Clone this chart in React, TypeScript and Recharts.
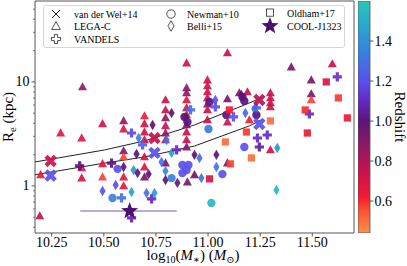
import React from 'react';
import { ScatterChart, Scatter, XAxis, YAxis, ReferenceArea, ErrorBar, Legend, BarChart, Bar, Label } from 'recharts';

const SERIF = '"Liberation Serif", "DejaVu Serif", serif';

// colormap stops (redshift, colour)
const cmapStops: [number, string][] = [
  [0.44, '#f8914f'], [0.55, '#fb5331'], [0.62, '#f21b33'], [0.75, '#c8114c'], [0.88, '#8b1a66'],
  [1.0, '#5b1579'], [1.1, '#6529c4'], [1.2, '#5a50ec'], [1.32, '#3d79e0'], [1.45, '#2aa0d0'], [1.6, '#27c9b7'],
];
const Z_MIN = 0.44;
const Z_MAX = 1.6;
const cbTicks = [0.6, 0.8, 1.0, 1.2, 1.4];

const xTicks = [10.25, 10.5, 10.75, 11.0, 11.25, 11.5];
const yTicks = [0.4, 0.5, 0.6, 0.7, 0.8, 0.9, 1, 2, 3, 4, 5, 6, 7, 8, 9, 10, 20, 30, 40, 50];

// [log10 M*, Re (kpc), redshift]
const vanDerWel: number[][] = [
  [10.245, 1.74, 0.74], [10.245, 1.26, 1.2], [10.743, 2.89, 0.76], [10.743, 2.08, 1.2], [11.246, 6.71, 0.78], [11.246, 3.95, 1.2],
];
const legaC: number[][] = [
  [10.398, 8.95, 0.86], [10.293, 3.23, 0.66], [10.494, 3.95, 0.72], [10.394, 2.89, 0.68], [10.595, 4.22, 0.86],
  [10.595, 3.53, 0.68], [10.595, 2.17, 0.9], [10.595, 1.9, 0.57], [10.494, 1.63, 0.68], [10.394, 1.49, 0.66],
  [10.197, 1.28, 0.64], [10.394, 1.19, 0.72], [10.494, 1.22, 0.57], [10.595, 1.22, 0.66], [10.595, 1.0, 0.66],
  [10.193, 0.515, 0.74], [10.695, 1.22, 0.92], [10.695, 1.52, 0.68], [10.796, 1.66, 0.92], [10.901, 1.09, 0.92],
  [10.695, 4.71, 0.62], [10.695, 3.95, 0.72], [10.695, 3.3, 0.72], [10.695, 2.77, 0.74], [10.695, 1.9, 0.72],
  [10.796, 6.71, 0.74], [10.796, 5.38, 0.74], [10.796, 4.51, 0.86], [10.796, 3.78, 0.74], [10.796, 3.23, 0.86], [10.796, 2.77, 0.76],
  [10.897, 15.2, 0.74], [10.897, 8.75, 0.88], [10.897, 7.84, 0.88], [10.897, 6.71, 0.66], [10.897, 5.62, 0.74],
  [10.897, 4.82, 0.74], [10.897, 3.86, 0.9], [10.897, 3.3, 0.74], [10.897, 2.77, 0.76], [10.897, 2.37, 0.9],
  [10.997, 10.4, 0.74], [10.997, 9.15, 0.74], [10.997, 8.01, 0.74], [10.997, 7.02, 0.74], [10.997, 6.14, 0.86],
  [10.997, 5.38, 0.74], [10.997, 4.31, 0.74],
  [11.093, 19.0, 0.74], [11.093, 6.86, 0.92], [11.093, 4.12, 0.74], [11.093, 1.66, 0.92], [11.15, 7.84, 0.9],
  [11.189, 8.01, 0.74], [11.198, 4.31, 0.62],
  [11.299, 7.84, 0.74], [11.299, 7.02, 0.74], [11.299, 6.28, 0.74], [11.299, 5.75, 0.74], [11.299, 2.22, 0.74],
  [11.399, 13.9, 0.92], [11.596, 14.9, 0.74], [11.495, 10.4, 0.92], [11.495, 7.67, 0.92], [11.495, 6.71, 0.57],
  [10.935, 1.28, 0.95],
];
const vandels: number[][] = [
  [10.633, 3.23, 1.18], [10.537, 1.66, 1.0], [10.384, 1.56, 1.0], [10.585, 0.767, 1.3], [10.729, 0.75, 1.1],
  [10.633, 0.493, 1.08], [10.916, 5.38, 1.28], [11.035, 5.75, 1.2], [11.122, 4.61, 1.2], [11.232, 5.62, 1.25],
  [10.849, 2.22, 1.1], [10.686, 2.48, 1.25], [11.237, 2.89, 1.1], [11.284, 3.09, 1.1], [11.246, 2.37, 1.05],
  [11.486, 4.92, 1.1], [11.62, 11.2, 1.12],
];
const newman: number[][] = [
  [10.566, 1.46, 1.2], [10.542, 0.767, 1.35], [10.877, 1.59, 1.2], [10.906, 1.59, 1.2], [10.897, 1.42, 1.2],
  [10.877, 1.33, 1.2], [10.825, 1.19, 1.35], [10.887, 4.61, 1.0], [10.901, 4.12, 1.0], [11.007, 6.42, 1.02],
  [11.002, 3.53, 1.32], [11.088, 4.82, 1.0], [11.165, 7.17, 1.0], [11.174, 6.57, 1.0], [11.174, 2.37, 1.2],
  [11.069, 1.3, 1.2], [11.016, 0.687, 1.55], [11.232, 4.82, 1.0],
];
const belli: number[][] = [
  [10.595, 1.52, 1.0], [10.643, 1.42, 1.42], [10.657, 2.03, 1.0], [10.667, 2.89, 1.35], [10.557, 1.02, 1.2],
  [10.494, 0.895, 1.22], [10.633, 0.875, 1.45], [10.662, 1.33, 1.0], [10.715, 1.3, 1.0], [10.705, 0.857, 1.3],
  [10.743, 0.857, 1.45], [10.825, 2.08, 1.45], [10.777, 1.7, 1.3], [10.796, 1.39, 1.35], [10.796, 1.14, 1.0],
  [10.853, 1.07, 1.02], [10.734, 3.86, 1.0], [10.825, 5.03, 1.0], [11.035, 6.71, 1.2], [11.16, 7.5, 1.0],
  [11.179, 5.03, 1.28], [11.222, 5.5, 1.35], [10.801, 2.77, 1.3], [10.935, 1.99, 1.0], [10.959, 1.86, 1.3],
  [11.04, 1.99, 1.0], [11.04, 1.52, 1.3], [10.968, 1.19, 1.3], [11.332, 2.32, 1.42], [11.328, 0.915, 1.55],
];
const oldham: number[][] = [
  [11.102, 5.38, 0.62], [11.083, 2.65, 0.5], [11.184, 3.3, 0.58], [11.107, 1.63, 0.57], [11.007, 1.17, 0.7],
  [11.208, 1.86, 0.5], [11.299, 4.22, 0.5], [11.567, 10.0, 0.7], [11.625, 7.02, 0.58], [11.466, 5.38, 0.6],
  [11.668, 4.51, 0.64], [11.476, 3.23, 0.64],
];
const coolJ1323 = [{ m: 10.624, r: 0.575, z: 1.02, err: [0.237, 0.226] }];
const fitUpper: number[][] = [[10.169, 1.7], [10.504, 2.22], [10.695, 2.71], [10.935, 3.86], [11.198, 6.28], [11.265, 7.17]];
const fitLower: number[][] = [[10.169, 1.28], [10.504, 1.66], [10.695, 1.9], [10.935, 2.42], [11.198, 3.78], [11.256, 4.31]];

const toPts = (a: number[][]) => a.map(([m, r, z]) => ({ m, r, z }));

function hexToRgb(h: string) {
  return [parseInt(h.slice(1, 3), 16), parseInt(h.slice(3, 5), 16), parseInt(h.slice(5, 7), 16)];
}
function zc(z: number) {
  const v = Math.max(Z_MIN, Math.min(Z_MAX, z));
  for (let i = 0; i < cmapStops.length - 1; i++) {
    const [z0, c0] = cmapStops[i];
    const [z1, c1] = cmapStops[i + 1];
    if (v >= z0 && v <= z1) {
      const t = (v - z0) / (z1 - z0);
      const a = hexToRgb(c0);
      const b = hexToRgb(c1);
      const c = a.map((x, k) => Math.round(x + (b[k] - x) * t));
      return `rgb(${c[0]},${c[1]},${c[2]})`;
    }
  }
  return cmapStops[cmapStops.length - 1][1];
}

const OP = 0.92;
function plusPts(cx: number, cy: number, a: number, r: number, rot: number) {
  const base = [[-a, -r], [a, -r], [a, -a], [r, -a], [r, a], [a, a], [a, r], [-a, r], [-a, a], [-r, a], [-r, -a], [-a, -a]];
  const c = Math.cos(rot), s = Math.sin(rot);
  return base.map(([x, y]) => `${cx + x * c - y * s},${cy + x * s + y * c}`).join(' ');
}
function starPts(cx: number, cy: number, ro: number, ri: number) {
  const p: string[] = [];
  for (let i = 0; i < 10; i++) {
    const r = i % 2 === 0 ? ro : ri;
    const ang = -Math.PI / 2 + (i * Math.PI) / 5;
    p.push(`${cx + r * Math.cos(ang)},${cy + r * Math.sin(ang)}`);
  }
  return p.join(' ');
}

const TriShape = (p: any) => (
  <polygon points={`${p.cx},${p.cy - 4.8} ${p.cx - 4.5},${p.cy + 3.4} ${p.cx + 4.5},${p.cy + 3.4}`} fill={zc(p.payload.z)} fillOpacity={OP} />
);
const XShape = (p: any) => <polygon points={plusPts(p.cx, p.cy, 2.2, 6.6, Math.PI / 4)} fill={zc(p.payload.z)} fillOpacity={OP} />;
const PlusShape = (p: any) => <polygon points={plusPts(p.cx, p.cy, 1.6, 4.6, 0)} fill={zc(p.payload.z)} fillOpacity={OP} />;
const CircleShape = (p: any) => <circle cx={p.cx} cy={p.cy} r={4.2} fill={zc(p.payload.z)} fillOpacity={OP} />;
const DiamondShape = (p: any) => (
  <polygon points={`${p.cx},${p.cy - 5.2} ${p.cx + 3.1},${p.cy} ${p.cx},${p.cy + 5.2} ${p.cx - 3.1},${p.cy}`} fill={zc(p.payload.z)} fillOpacity={OP} />
);
const SquareShape = (p: any) => <rect x={p.cx - 3.6} y={p.cy - 3.6} width={7.2} height={7.2} fill={zc(p.payload.z)} fillOpacity={OP} />;
const StarShape = (p: any) => <polygon points={starPts(p.cx, p.cy, 9, 3.7)} fill="#4a0e6e" />;
const NoShape = () => <g />;

const XTick = (p: any) => (
  <g>
    <line x1={p.x} x2={p.x} y1={p.y} y2={p.y + 3.5} stroke="#333" strokeWidth={0.8} />
    <text x={p.x} y={p.y + 14} textAnchor="middle" fontFamily={SERIF} fontSize={14} fill="#000">
      {Number(p.payload.value).toFixed(2)}
    </text>
  </g>
);
const YTick = (p: any) => {
  const v = p.payload.value;
  const major = v === 1 || v === 10;
  return (
    <g>
      <line x1={p.x} x2={p.x - (major ? 3.5 : 2)} y1={p.y} y2={p.y} stroke="#333" strokeWidth={major ? 0.8 : 0.6} />
      {major && (
        <text x={p.x - 5.5} y={p.y} textAnchor="end" dominantBaseline="central" fontFamily={SERIF} fontSize={14} fill="#000">
          {v}
        </text>
      )}
    </g>
  );
};
const CbTick = (p: any) => (
  <g>
    <line x1={p.x} x2={p.x + 3.5} y1={p.y} y2={p.y} stroke="#333" strokeWidth={0.8} />
    <text x={p.x + 4.5} y={p.y} textAnchor="start" dominantBaseline="central" fontFamily={SERIF} fontSize={14} fill="#000">
      {Number(p.payload.value).toFixed(1)}
    </text>
  </g>
);

const LegendBox = () => {
  const txt = { fontFamily: SERIF, fontSize: 10, fill: '#000', dominantBaseline: 'central' as const };
  return (
    <div style={{ position: 'relative', width: 302, height: 43, border: '1px solid #d6d6d6', borderRadius: 3, background: 'rgba(255,255,255,0.85)', boxSizing: 'border-box' }}>
      <svg width={302} height={43} style={{ position: 'absolute', left: -1, top: -1 }}>
        <line x1={9} y1={5} x2={17} y2={13} stroke="#222" strokeWidth={1} />
        <line x1={9} y1={13} x2={17} y2={5} stroke="#222" strokeWidth={1} />
        <text x={31} y={9} {...txt}>van der Wel+14</text>
        <polygon points="13,16.5 8.6,24.5 17.4,24.5" fill="none" stroke="#222" strokeWidth={0.8} />
        <text x={31} y={21.5} {...txt}>LEGA-C</text>
        <polygon points={plusPts(13, 34, 1.6, 4.6, 0)} fill="none" stroke="#222" strokeWidth={0.8} />
        <text x={31} y={34} {...txt}>VANDELS</text>
        <circle cx={128} cy={9} r={4.2} fill="none" stroke="#222" strokeWidth={0.8} />
        <text x={144} y={9} {...txt}>Newman+10</text>
        <polygon points="128,15.8 131.1,21 128,26.2 124.9,21" fill="none" stroke="#222" strokeWidth={0.8} />
        <text x={144} y={21.5} {...txt}>Belli+15</text>
        <rect x={223.4} y={4} width={7.2} height={7.2} fill="none" stroke="#222" strokeWidth={0.8} />
        <text x={244} y={8} {...txt}>Oldham+17</text>
        <polygon points={starPts(227, 21, 9, 3.7)} fill="#4a0e6e" />
        <text x={244} y={21.5} {...txt}>COOL-J1323</text>
      </svg>
    </div>
  );
};

// gradient stops from top (high z) to bottom (low z), offsets increasing
const gradStops = cmapStops.slice().reverse().map(([z, c]) => ({ off: (Z_MAX - z) / (Z_MAX - Z_MIN), c }));

export default function App() {
  return (
    <div style={{ position: 'absolute', left: 0, top: 0, width: 407, height: 266, background: '#fff' }}>
      <div style={{ position: 'absolute', left: 0, top: 0 }}>
        <ScatterChart width={407} height={266} margin={{ top: 1, right: 53, bottom: 0, left: 0 }}>
          <XAxis type="number" dataKey="m" domain={[10.17, 11.7]} allowDataOverflow ticks={xTicks} interval={0}
            tick={<XTick />} tickLine={false} axisLine={false} tickSize={0} tickMargin={0} height={33}>
            <Label content={() => (
              <text x={193} y={260} textAnchor="middle" fontFamily={SERIF} fontSize={15} fill="#000">
                log<tspan dy={2.5} fontSize={10}>10</tspan>
                <tspan dy={-2.5}>(</tspan><tspan fontStyle="italic">M</tspan><tspan dy={2.5} fontSize={10}>∗</tspan>
                <tspan dy={-2.5}>) (</tspan><tspan fontStyle="italic">M</tspan><tspan dy={2.5} fontSize={10}>⊙</tspan><tspan dy={-2.5}>)</tspan>
              </text>
            )} />
          </XAxis>
          <YAxis type="number" dataKey="r" scale="log" domain={[0.353, 60]} allowDataOverflow ticks={yTicks} interval={0}
            tick={<YTick />} tickLine={false} axisLine={false} tickSize={0} tickMargin={0} width={35}>
            <Label content={() => (
              <text transform="translate(13,117) rotate(-90)" textAnchor="middle" fontFamily={SERIF} fontSize={15} fill="#000">
                R<tspan dy={2.5} fontSize={10.5}>e</tspan><tspan dy={-2.5}> (kpc)</tspan>
              </text>
            )} />
          </YAxis>
          <ReferenceArea x1={10.17} x2={11.7} y1={0.353} y2={60} fill="none" stroke="#444" strokeWidth={1} strokeOpacity={0.9} />
          <Scatter data={toPts(fitUpper.map(([m, r]) => [m, r, 0]))} line={{ stroke: '#222', strokeWidth: 1 }} shape={NoShape} isAnimationActive={false} />
          <Scatter data={toPts(fitLower.map(([m, r]) => [m, r, 0]))} line={{ stroke: '#222', strokeWidth: 1 }} shape={NoShape} isAnimationActive={false} />
          <Scatter data={toPts(legaC)} shape={TriShape} isAnimationActive={false} />
          <Scatter data={toPts(belli)} shape={DiamondShape} isAnimationActive={false} />
          <Scatter data={toPts(newman)} shape={CircleShape} isAnimationActive={false} />
          <Scatter data={toPts(vandels)} shape={PlusShape} isAnimationActive={false} />
          <Scatter data={toPts(oldham)} shape={SquareShape} isAnimationActive={false} />
          <Scatter data={toPts(vanDerWel)} shape={XShape} isAnimationActive={false} />
          <Scatter data={coolJ1323} shape={StarShape} isAnimationActive={false}>
            <ErrorBar dataKey="err" direction="x" width={0} stroke="#a98ccb" strokeWidth={1.6} />
          </Scatter>
          <Legend layout="vertical" align="center" verticalAlign="middle" content={() => <LegendBox />}
            wrapperStyle={{ left: 43, top: 5, width: 302, height: 43 }} />
        </ScatterChart>
      </div>
      <div style={{ position: 'absolute', left: 358, top: 0 }}>
        <BarChart width={49} height={266} data={[{ k: 'cb', v: Z_MAX }]} margin={{ top: 1, right: 0, bottom: 33, left: 0 }} barCategoryGap={0} barGap={0}>
          <defs>
            <linearGradient id="cbg" x1="0" y1="0" x2="0" y2="1">
              {gradStops.map((s, i) => <stop key={i} offset={s.off} stopColor={s.c} />)}
            </linearGradient>
          </defs>
          <XAxis dataKey="k" hide />
          <YAxis type="number" orientation="right" domain={[Z_MIN, Z_MAX]} allowDataOverflow ticks={cbTicks} interval={0}
            tick={<CbTick />} tickLine={false} axisLine={false} tickSize={0} tickMargin={0} width={37}>
            <Label content={() => (
              <text transform="translate(37,117) rotate(90)" textAnchor="middle" fontFamily={SERIF} fontSize={15} fill="#000">Redshift</text>
            )} />
          </YAxis>
          <Bar dataKey="v" fill="url(#cbg)" stroke="#555" strokeWidth={0.8} isAnimationActive={false} />
        </BarChart>
      </div>
    </div>
  );
}
